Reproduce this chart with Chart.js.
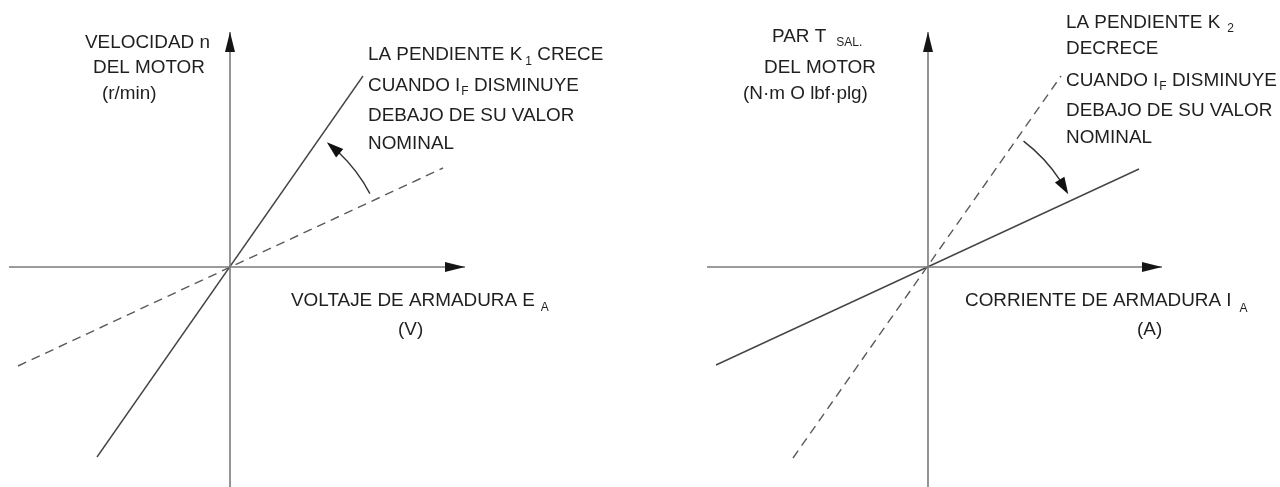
<!DOCTYPE html>
<html><head><meta charset="utf-8">
<script src="https://cdn.jsdelivr.net/npm/chart.js@4.4.1/dist/chart.umd.min.js"></script>
<style>
html,body{margin:0;padding:0;background:#fff;overflow:hidden}
#wrap{display:flex;width:1280px;height:487px}
canvas{display:block}
</style></head>
<body>
<div id="wrap"><canvas id="c1" width="640" height="487"></canvas><canvas id="c2" width="640" height="487"></canvas></div>
<script>
// ---------- data (arbitrary units, origin at 0,0) ----------
const leftSolidK1   = [{x:-1.33,y:-1.90},{x:1.33,y:1.91}];
const leftDashed    = [{x:-2.12,y:-0.99},{x:2.13,y:0.99}];
const rightSolidK2  = [{x:-2.12,y:-0.98},{x:2.11,y:0.98}];
const rightDashed   = [{x:-1.35,y:-1.91},{x:1.33,y:1.91}];
const leftXAxis     = [{x:-2.21,y:0},{x:2.35,y:0}];
const leftYAxis     = [{x:0,y:-2.20},{x:0,y:2.35}];
const rightXAxis    = [{x:-2.21,y:0},{x:2.34,y:0}];
const rightYAxis    = [{x:0,y:-2.20},{x:0,y:2.35}];
const leftArcDeg    = [27.7, 52.2];
const rightArcDeg   = [52.8, 27.4];
const arcRadius     = 1.58;

// ---------- texts ----------
const leftYLabel  = ['VELOCIDAD n','DEL MOTOR','(r/min)'];
const leftXLabel  = ['VOLTAJE DE ARMADURA E','A','(V)'];
const leftNote    = ['LA PENDIENTE K','1',' CRECE','CUANDO I','F',' DISMINUYE','DEBAJO DE SU VALOR','NOMINAL'];
const rightYLabel = ['PAR T','SAL.','DEL MOTOR','(N·m O lbf·plg)'];
const rightXLabel = ['CORRIENTE DE ARMADURA I','A','(A)'];
const rightNote   = ['LA PENDIENTE K','2','DECRECE','CUANDO I','F',' DISMINUYE','DEBAJO DE SU VALOR','NOMINAL'];

const FONT = '"Liberation Sans", Arial, Helvetica, sans-serif';
const TEXT = '#1f1f1f';
const AXIS = '#7a7a7a';
const LINE = '#454545';
const DASH = '#5a5a5a';
const BIG = 18.9, SMALL = 12;

function font(s){ return s + 'px ' + FONT; }

function runs(ctx, x, y, parts){
  let cx = x;
  parts.forEach(p => {
    cx += (p[3]||0);
    ctx.font = font(p[1]);
    ctx.fillText(p[0], cx, y + (p[2]||0));
    cx += ctx.measureText(p[0]).width;
  });
}

function arrowHead(ctx, tx, ty, bx, by, hw){
  const dx = tx-bx, dy = ty-by, L = Math.hypot(dx,dy);
  const px = -dy/L*hw, py = dx/L*hw;
  ctx.beginPath();
  ctx.moveTo(tx,ty); ctx.lineTo(bx+px,by+py); ctx.lineTo(bx-px,by-py); ctx.closePath();
  ctx.fill();
}

function makePlugin(side){
  return {
    id:'deco'+side,
    afterDatasetsDraw(chart){
      const ctx = chart.ctx, xs = chart.scales.x, ys = chart.scales.y;
      const ox = xs.getPixelForValue(0), oy = ys.getPixelForValue(0);
      const xa = side==='L'?leftXAxis:rightXAxis, ya = side==='L'?leftYAxis:rightYAxis;
      ctx.save();
      ctx.fillStyle = '#151515';
      const xt = xs.getPixelForValue(xa[1].x);
      arrowHead(ctx, xt, oy, xt-20, oy, 5);
      const yt = ys.getPixelForValue(ya[1].y);
      arrowHead(ctx, ox, yt, ox, yt+20, 5);
      // curved arrow
      const arc = side==='L'?leftArcDeg:rightArcDeg;
      const r = xs.getPixelForValue(arcRadius) - ox;
      const a0 = arc[0]*Math.PI/180, a1 = arc[1]*Math.PI/180;
      const sgn = Math.sign(a1-a0), dA = 17/r;
      const aB = a1 - sgn*dA;
      ctx.strokeStyle = '#333'; ctx.lineWidth = 1.4;
      ctx.beginPath();
      ctx.arc(ox, oy, r, -a0, -(aB + sgn*0.01), sgn>0);
      ctx.stroke();
      ctx.fillStyle = '#111';
      arrowHead(ctx, ox + r*Math.cos(a1), oy - r*Math.sin(a1), ox + r*Math.cos(aB), oy - r*Math.sin(aB), 5.5);
      // texts
      ctx.fillStyle = TEXT; ctx.textBaseline = 'alphabetic'; ctx.textAlign = 'left';
      if (side==='L'){
        runs(ctx, 85, 47.5, [[leftYLabel[0],BIG]]);
        runs(ctx, 93, 73, [[leftYLabel[1],BIG]]);
        runs(ctx, 102, 99, [[leftYLabel[2],BIG]]);
        runs(ctx, 291, 306, [[leftXLabel[0],BIG],[leftXLabel[1],SMALL,5,6]]);
        runs(ctx, 398, 335, [[leftXLabel[2],BIG]]);
        runs(ctx, 368, 60, [[leftNote[0],BIG],[leftNote[1],SMALL,5,3],[leftNote[2],BIG]]);
        runs(ctx, 368, 91, [[leftNote[3],BIG],[leftNote[4],SMALL,4,1],[leftNote[5],BIG]]);
        runs(ctx, 368, 121, [[leftNote[6],BIG]]);
        runs(ctx, 368, 149, [[leftNote[7],BIG]]);
      } else {
        const o = 640;
        runs(ctx, 772-o, 42, [[rightYLabel[0],BIG],[rightYLabel[1],SMALL,4,10]]);
        runs(ctx, 764-o, 73, [[rightYLabel[2],BIG]]);
        runs(ctx, 743-o, 99, [[rightYLabel[3],BIG]]);
        runs(ctx, 965-o, 306, [[rightXLabel[0],BIG],[rightXLabel[1],SMALL,6,8]]);
        runs(ctx, 1137-o, 335, [[rightXLabel[2],BIG]]);
        runs(ctx, 1066-o, 28, [[rightNote[0],BIG],[rightNote[1],SMALL,4,7]]);
        runs(ctx, 1066-o, 54, [[rightNote[2],BIG]]);
        runs(ctx, 1066-o, 86, [[rightNote[3],BIG],[rightNote[4],SMALL,4,1],[rightNote[5],BIG]]);
        runs(ctx, 1066-o, 116, [[rightNote[6],BIG]]);
        runs(ctx, 1066-o, 143, [[rightNote[7],BIG]]);
      }
      ctx.restore();
    }
  };
}

function ds(data, color, width, dash){
  return {data, borderColor:color, borderWidth:width, borderDash:dash||[], showLine:true,
          pointRadius:0, pointHoverRadius:0, fill:false, tension:0, clip:false};
}

function make(id, side){
  const isL = side==='L';
  const datasets = isL ? [
    ds(leftXAxis, AXIS, 1.6), ds(leftYAxis, AXIS, 1.6),
    ds(leftDashed, DASH, 1.4, [9,6]), ds(leftSolidK1, LINE, 1.4)
  ] : [
    ds(rightXAxis, AXIS, 1.6), ds(rightYAxis, AXIS, 1.6),
    ds(rightDashed, DASH, 1.4, [9,6]), ds(rightSolidK2, LINE, 1.4)
  ];
  return new Chart(document.getElementById(id), {
    type:'scatter',
    data:{datasets},
    options:{
      responsive:false, animation:false, devicePixelRatio:1,
      layout:{padding:0},
      plugins:{legend:{display:false}, tooltip:{enabled:false}, title:{display:false}},
      events:[],
      scales:{
        x:{type:'linear', display:false, min: isL?-2.30:-2.88, max: isL?4.10:3.52},
        y:{type:'linear', display:false, min:-2.20, max:2.67}
      }
    },
    plugins:[makePlugin(side)]
  });
}
make('c1','L');
make('c2','R');
</script>
</body></html>
